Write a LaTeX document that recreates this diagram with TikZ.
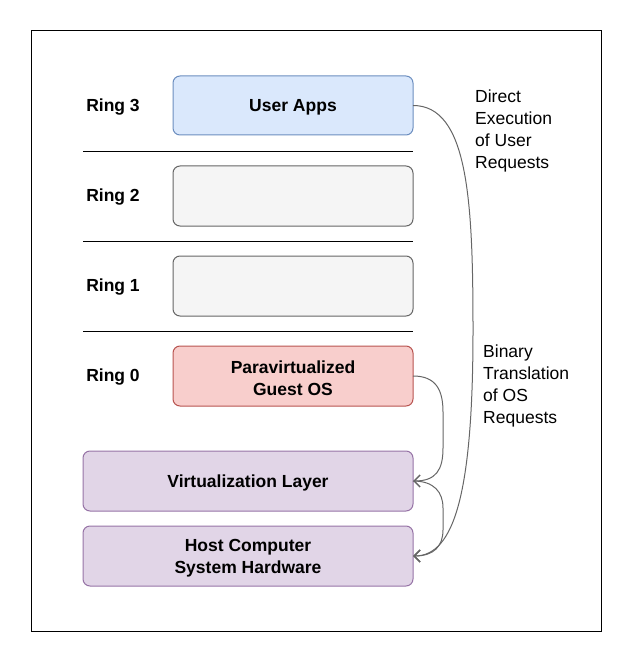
\documentclass[tikz,border=0pt]{standalone}
\usepackage{fontspec}
\setmainfont{Liberation Sans}
\usetikzlibrary{arrows.meta}
\definecolor{blueF}{HTML}{DAE8FC}\definecolor{blueD}{HTML}{6C8EBF}
\definecolor{grayF}{HTML}{F5F5F5}\definecolor{grayD}{HTML}{666666}
\definecolor{redF}{HTML}{F8CECC}\definecolor{redD}{HTML}{B85450}
\definecolor{purF}{HTML}{E1D5E7}\definecolor{purD}{HTML}{9673A6}
\tikzset{
  box/.style={rounded corners=7pt,line width=1pt,font=\fontsize{17.5}{22}\selectfont\bfseries,align=center},
  ringlbl/.style={font=\fontsize{17.5}{22}\selectfont\bfseries,anchor=center},
  note/.style={font=\fontsize{17.5}{22}\selectfont,align=left,anchor=north west,inner sep=0pt},
  conn/.style={draw=grayD,line width=1pt,-{Straight Barb[length=6pt,width=12pt,line width=1.5pt]}},
}
\begin{document}
\begin{tikzpicture}[x=1pt,y=-1pt]
\useasboundingbox (0,0) rectangle (633,663);
\draw[line width=1pt] (31,31) rectangle (601,631);
% boxes
\draw[box,fill=blueF,draw=blueD] (173,76) rectangle (413,135);
\node[box] (apps) at (293,107.5) {User Apps};
\draw[box,fill=grayF,draw=grayD] (173,166) rectangle (413,226);
\draw[box,fill=grayF,draw=grayD] (173,256) rectangle (413,316);
\draw[box,fill=redF,draw=redD] (173,346) rectangle (413,406);
\node[box] (guest) at (293,378) {Paravirtualized\\Guest OS};
\draw[box,fill=purF,draw=purD] (83,451) rectangle (413,511);
\node[box] (virt) at (248,483) {Virtualization Layer};
\draw[box,fill=purF,draw=purD] (83,526) rectangle (413,586);
\node[box] (host) at (248,558) {Host Computer\\System Hardware};
\coordinate (appsE) at (413,105.5);
\coordinate (guestE) at (413,376);
\coordinate (virtE) at (413,481);
\coordinate (hostE) at (413,556);
% separators
\draw[line width=1pt] (83,152) -- (413,152);
\draw[line width=1pt] (83,241) -- (413,241);
\draw[line width=1pt] (83,331) -- (413,331);
% ring labels
\node[ringlbl] (r3) at (113,107.5) {Ring 3};
\node[ringlbl] (r2) at (113,197.5) {Ring 2};
\node[ringlbl] (r1) at (113,287.5) {Ring 1};
\node[ringlbl] (r0) at (113,377.5) {Ring 0};
% notes
\node[note] (n1) at (475,89.5) {Direct\\Execution\\of User\\Requests};
\node[note] (n2) at (483,344.5) {Binary\\Translation\\of OS\\Requests};
% connectors
\draw[conn] (guestE) .. controls (436,376) and (443,390) .. (443,412) -- (443,448) .. controls (443,470) and (436,481) .. (virtE);
\draw[conn] (virtE) .. controls (434,481) and (443,492) .. (443,508) -- (443,530) .. controls (443,546) and (434,556) .. (hostE);
\draw[conn] (appsE) .. controls (468,105.5) and (473,200) .. (473,330) .. controls (473,490) and (455,556) .. (hostE);
\end{tikzpicture}
\end{document}
